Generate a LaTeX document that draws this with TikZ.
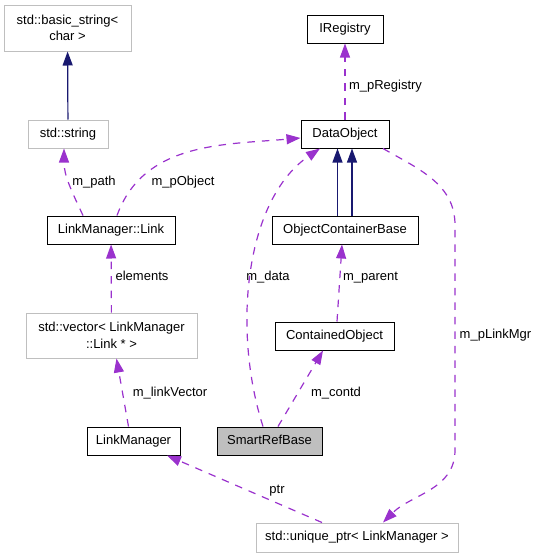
\documentclass[tikz,border=0pt]{standalone}
\usepackage{fontspec}
\setmainfont{Liberation Sans}
\usepackage{tikz}
\usetikzlibrary{arrows.meta}

\definecolor{usepurple}{HTML}{9A32CD}
\definecolor{inhblue}{HTML}{191970}
\definecolor{extgray}{HTML}{BFBFBF}

\begin{document}
\begin{tikzpicture}[x=1pt, y=1pt,
  base/.style={draw=black, line width=1pt, fill=white, minimum height=28pt, inner sep=0pt,
    font=\fontsize{13}{16.5}\selectfont},
  cls/.style={base, text height=9.4pt, text depth=2.7pt},
  extcls/.style={cls, draw=extgray},
  twoline/.style={base, draw=extgray, align=center},
  lbl/.style={inner sep=0pt, font=\fontsize{13}{16.5}\selectfont, text height=9.4pt, text depth=2.7pt},
  usage/.style={draw=usepurple, line width=1.2pt, dash pattern=on 7.5pt off 7pt,
    -{Triangle[length=14pt,width=10pt]}},
  inherit/.style={draw=inhblue, line width=1.2pt, -{Triangle[length=14pt,width=10pt]}}]
\useasboundingbox (0,0) rectangle (537,-557);

% Top row
\node[twoline, minimum width=127pt, minimum height=46pt] (bstring) at (67.5,-28) {std::basic\_string<\\char >};
\node[cls, minimum width=76pt] (ireg) at (345,-29) {IRegistry};

% Second row
\node[extcls, minimum width=80pt] (string) at (68,-134) {std::string};
\node[cls, minimum width=88pt] (dobj) at (345,-134) {DataObject};

% Third row
\node[cls, minimum width=128pt] (link) at (111,-230) {LinkManager::Link};
\node[cls, minimum width=146pt] (ocb) at (345,-230) {ObjectContainerBase};

% Fourth row
\node[twoline, minimum width=171pt, minimum height=45pt] (vec) at (111.5,-335.5) {std::vector< LinkManager\\::Link * >};
\node[cls, minimum width=119pt] (cobj) at (334.5,-336) {ContainedObject};

% Fifth row
\node[cls, minimum width=93pt] (lm) at (133.5,-441) {LinkManager};
\node[cls, minimum width=105pt, fill=extgray] (srb) at (269.5,-441) {SmartRefBase};

% Bottom row
\node[extcls, minimum width=202pt, minimum height=29pt] (uniq) at (357,-537.5) {std::unique\_ptr< LinkManager >};

% Bends of the m_pLinkMgr edge
\coordinate (mgrTop) at (455,-225);
\coordinate (mgrBot) at (455,-450);

% Inheritance
\draw[inherit] (string) -- (bstring);
\draw[inherit] ([xshift=-7.5pt]ocb.north) -- ([xshift=-7.5pt]dobj.south);
\draw[inherit] ([xshift=7pt]ocb.north) -- ([xshift=7pt]dobj.south);

% Usage
\draw[usage] (dobj) -- (ireg);
\draw[usage] ([xshift=-28pt]link.north) to[out=115, in=-90] ([xshift=-4pt]string.south);
\draw[usage] ([xshift=6pt]link.north) to[out=70, in=185] ([yshift=-4pt]dobj.west);
\draw[usage] (vec) -- (link);
\draw[usage] ([xshift=-5pt]lm.north) -- ([xshift=5pt]vec.south);
\draw[usage] ([xshift=-6.5pt]srb.north) .. controls +(-31,97) and +(-75,-51) .. ([xshift=-25pt]dobj.south);
\draw[usage] ([xshift=8.5pt]srb.north) -- ([xshift=-11.5pt]cobj.south);
\draw[usage] ([xshift=2.5pt]cobj.north) -- ([xshift=-3pt]ocb.south);
\draw[usage] ([xshift=38pt]dobj.south) to[out=-30, in=90] (mgrTop) -- (mgrBot) to[out=-90, in=45] ([xshift=26pt]uniq.north);
\draw[usage] ([xshift=-35pt]uniq.north) -- ([xshift=33.5pt]lm.south);

% Edge labels
\node[lbl] (lRegistry) at (385.5,-86) {m\_pRegistry};
\node[lbl] (lPath) at (94,-182) {m\_path};
\node[lbl] (lObject) at (183,-182) {m\_pObject};
\node[lbl] (lElements) at (142,-277) {elements};
\node[lbl] (lData) at (268,-277) {m\_data};
\node[lbl] (lParent) at (370.5,-277) {m\_parent};
\node[lbl] (lLinkMgr) at (495.5,-335) {m\_pLinkMgr};
\node[lbl] (lLinkVector) at (170,-393) {m\_linkVector};
\node[lbl] (lContd) at (336,-393) {m\_contd};
\node[lbl] (lPtr) at (277,-490) {ptr};
\end{tikzpicture}
\end{document}
